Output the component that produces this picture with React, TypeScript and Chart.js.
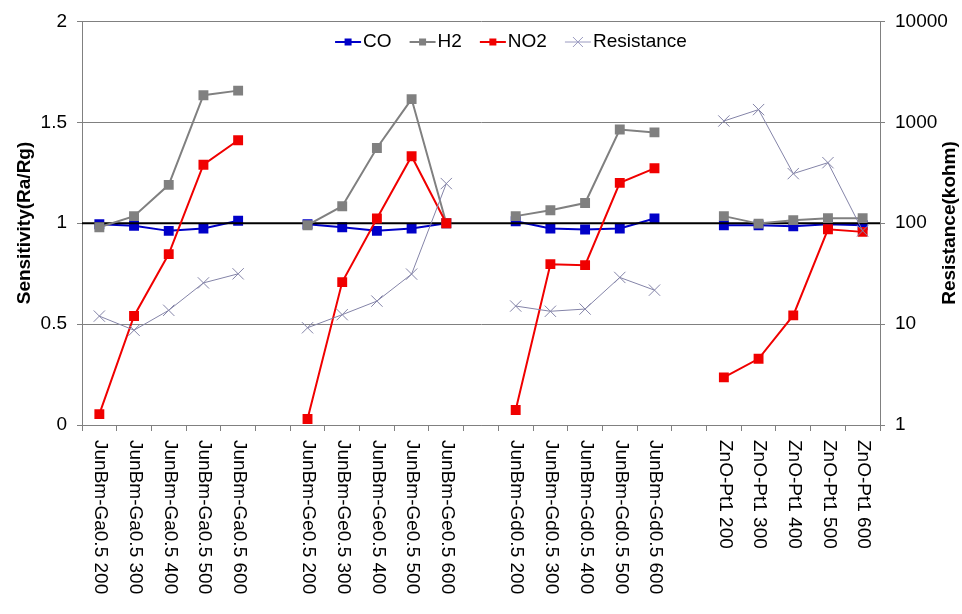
import React, { useEffect, useRef } from "react";
import { Chart, registerables } from "chart.js";

Chart.register(...registerables);

const categories: string[] = [
  "JunBm-Ga0.5 200", "JunBm-Ga0.5 300", "JunBm-Ga0.5 400", "JunBm-Ga0.5 500", "JunBm-Ga0.5 600", "",
  "JunBm-Ge0.5 200", "JunBm-Ge0.5 300", "JunBm-Ge0.5 400", "JunBm-Ge0.5 500", "JunBm-Ge0.5 600", "",
  "JunBm-Gd0.5 200", "JunBm-Gd0.5 300", "JunBm-Gd0.5 400", "JunBm-Gd0.5 500", "JunBm-Gd0.5 600", "",
  "ZnO-Pt1 200", "ZnO-Pt1 300", "ZnO-Pt1 400", "ZnO-Pt1 500", "ZnO-Pt1 600",
];

const coValues = [0.995, 0.987, 0.962, 0.974, 1.012, null, 0.995, 0.98, 0.962, 0.974, 1.0, null, 1.01, 0.974, 0.969, 0.974, 1.023, null, 0.99, 0.99, 0.985, 0.995, 0.99];
const h2Values = [0.98, 1.035, 1.19, 1.634, 1.657, null, 0.99, 1.084, 1.373, 1.615, 1.0, null, 1.035, 1.064, 1.1, 1.464, 1.45, null, 1.035, 0.998, 1.015, 1.025, 1.025];
const no2Values = [0.054, 0.54, 0.847, 1.29, 1.411, null, 0.03, 0.708, 1.023, 1.332, 1.0, null, 0.074, 0.797, 0.792, 1.2, 1.272, null, 0.236, 0.328, 0.543, 0.97, 0.957];
const resistanceValues = [12.0, 8.7, 13.7, 25.6, 31.5, null, 9.2, 12.4, 16.9, 31.3, 247, null, 15.1, 13.4, 14.1, 29.0, 21.7, null, 1030, 1336, 310, 398, 84];

const leftTicks = [0, 0.5, 1, 1.5, 2];
const rightTicks = [1, 10, 100, 1000, 10000];
const referenceLevel = 1;

const FONT = 'Arial, "Liberation Sans", sans-serif';
const GRID = "#808080";
const CO_COLOR = "#0000C8";
const H2_COLOR = "#808080";
const NO2_COLOR = "#F00000";
const RES_COLOR = "#8484A8";

const legendItems = [
  { label: "CO", color: CO_COLOR, style: "rect", width: 2 },
  { label: "H2", color: H2_COLOR, style: "rect", width: 2 },
  { label: "NO2", color: NO2_COLOR, style: "rect", width: 2 },
  { label: "Resistance", color: "#9A9AC0", style: "cross", width: 1 },
];

const overlayPlugin = {
  id: "overlay",
  afterDatasetDraw(chart: any, args: any) {
    if (args.index !== 0) return;
    const { ctx, chartArea } = chart;
    const y = chart.scales.y.getPixelForValue(referenceLevel);
    ctx.save();
    ctx.strokeStyle = "#000000";
    ctx.lineWidth = 2;
    ctx.beginPath();
    ctx.moveTo(chartArea.left, y);
    ctx.lineTo(chartArea.right, y);
    ctx.stroke();
    ctx.restore();
  },
  afterDraw(chart: any) {
    const { ctx } = chart;
    const xs = chart.scales.x;
    ctx.save();
    ctx.fillStyle = "#000000";
    // x labels rotated clockwise
    ctx.font = `19px ${FONT}`;
    ctx.textAlign = "left";
    ctx.textBaseline = "middle";
    categories.forEach((lab, i) => {
      if (!lab) return;
      const x = xs.getPixelForValue(i) + 1;
      ctx.save();
      ctx.translate(x, 440);
      ctx.rotate(Math.PI / 2);
      ctx.fillText(lab, 0, 0);
      ctx.restore();
    });
    // axis titles
    ctx.font = `bold 19px ${FONT}`;
    ctx.textAlign = "center";
    ctx.textBaseline = "middle";
    ctx.save();
    ctx.translate(25, 223);
    ctx.rotate(-Math.PI / 2);
    ctx.fillText("Sensitivity(Ra/Rg)", 0, 0);
    ctx.restore();
    ctx.save();
    ctx.translate(950, 223);
    ctx.rotate(-Math.PI / 2);
    ctx.fillText("Resistance(kohm)", 0, 0);
    ctx.restore();
    // legend
    ctx.font = `19px ${FONT}`;
    ctx.textAlign = "left";
    ctx.textBaseline = "middle";
    const lineLen = 26;
    const textGap = 2;
    const itemGap = 18;
    const widths = legendItems.map((it) => lineLen + textGap + ctx.measureText(it.label).width);
    const total = widths.reduce((a, b) => a + b, 0) + itemGap * (legendItems.length - 1);
    let x = 511 - total / 2;
    const y = 42;
    legendItems.forEach((it, k) => {
      ctx.strokeStyle = it.color;
      ctx.lineWidth = it.width;
      ctx.beginPath();
      ctx.moveTo(x, y);
      ctx.lineTo(x + lineLen, y);
      ctx.stroke();
      const cx = x + lineLen / 2;
      if (it.style === "rect") {
        ctx.fillStyle = it.color;
        ctx.fillRect(cx - 3.5, y - 3.5, 7, 7);
      } else {
        ctx.lineWidth = 1;
        ctx.beginPath();
        ctx.moveTo(cx - 5, y - 5);
        ctx.lineTo(cx + 5, y + 5);
        ctx.moveTo(cx - 5, y + 5);
        ctx.lineTo(cx + 5, y - 5);
        ctx.stroke();
      }
      ctx.fillStyle = "#000000";
      ctx.fillText(it.label, x + lineLen + textGap, y);
      x += widths[k] + itemGap;
    });
    ctx.restore();
  },
};

export default function App() {
  const canvasRef = useRef<HTMLCanvasElement | null>(null);

  useEffect(() => {
    if (!canvasRef.current) return;
    Chart.defaults.font.family = FONT;
    Chart.defaults.font.size = 19;
    Chart.defaults.color = "#000000";
    const chart = new Chart(canvasRef.current, {
      type: "line",
      data: {
        labels: categories,
        datasets: [
          {
            label: "CO",
            data: coValues,
            yAxisID: "y",
            borderColor: CO_COLOR,
            backgroundColor: CO_COLOR,
            borderWidth: 2,
            pointStyle: "rect",
            pointRadius: 7,
            pointBorderWidth: 0,
            order: 4,
          },
          {
            label: "H2",
            data: h2Values,
            yAxisID: "y",
            borderColor: H2_COLOR,
            backgroundColor: H2_COLOR,
            borderWidth: 2,
            pointStyle: "rect",
            pointRadius: 7,
            pointBorderWidth: 0,
            order: 3,
          },
          {
            label: "NO2",
            data: no2Values,
            yAxisID: "y",
            borderColor: NO2_COLOR,
            backgroundColor: NO2_COLOR,
            borderWidth: 2,
            pointStyle: "rect",
            pointRadius: 7,
            pointBorderWidth: 0,
            order: 2,
          },
          {
            label: "Resistance",
            data: resistanceValues,
            yAxisID: "y2",
            borderColor: RES_COLOR,
            backgroundColor: RES_COLOR,
            borderWidth: 1,
            pointStyle: "crossRot",
            pointRadius: 8,
            pointBorderWidth: 1,
            order: 1,
          },
        ],
      },
      options: {
        responsive: false,
        animation: false,
        spanGaps: false,
        layout: { padding: { top: 21, left: 0, right: 0, bottom: 0 } },
        plugins: {
          legend: { display: false },
          tooltip: { enabled: false },
        },
        scales: {
          x: {
            type: "category",
            offset: true,
            grid: {
              display: true,
              drawOnChartArea: false,
              drawTicks: true,
              tickLength: 6,
              color: GRID,
              offset: true,
            },
            border: { color: GRID, width: 1 },
            ticks: { display: false },
            afterFit: (s: any) => {
              s.height = 614 - 425;
            },
          },
          y: {
            type: "linear",
            position: "left",
            min: 0,
            max: 2,
            afterBuildTicks: (s: any) => {
              s.ticks = leftTicks.map((v) => ({ value: v }));
            },
            ticks: {
              padding: 10,
              color: "#000000",
              font: { size: 19 },
              callback: (v: any) => String(v),
            },
            grid: { color: GRID, lineWidth: 1, tickLength: 5, drawTicks: true },
            border: { color: GRID, width: 1 },
            afterFit: (s: any) => {
              s.width = 82;
            },
          },
          y2: {
            type: "logarithmic",
            position: "right",
            min: 1,
            max: 10000,
            afterBuildTicks: (s: any) => {
              s.ticks = rightTicks.map((v) => ({ value: v }));
            },
            ticks: {
              padding: 10,
              color: "#000000",
              font: { size: 19 },
              callback: (v: any) => String(v),
            },
            grid: { drawOnChartArea: false, color: GRID, tickLength: 5, drawTicks: true },
            border: { color: GRID, width: 1 },
            afterFit: (s: any) => {
              s.width = 962 - 880;
            },
          },
        },
      },
      plugins: [overlayPlugin],
    } as any);
    return () => chart.destroy();
  }, []);

  return (
    <div style={{ position: "absolute", left: 0, top: 0, width: 962, height: 614, background: "#ffffff" }}>
      <canvas ref={canvasRef} width={962} height={614} style={{ display: "block" }} />
    </div>
  );
}
